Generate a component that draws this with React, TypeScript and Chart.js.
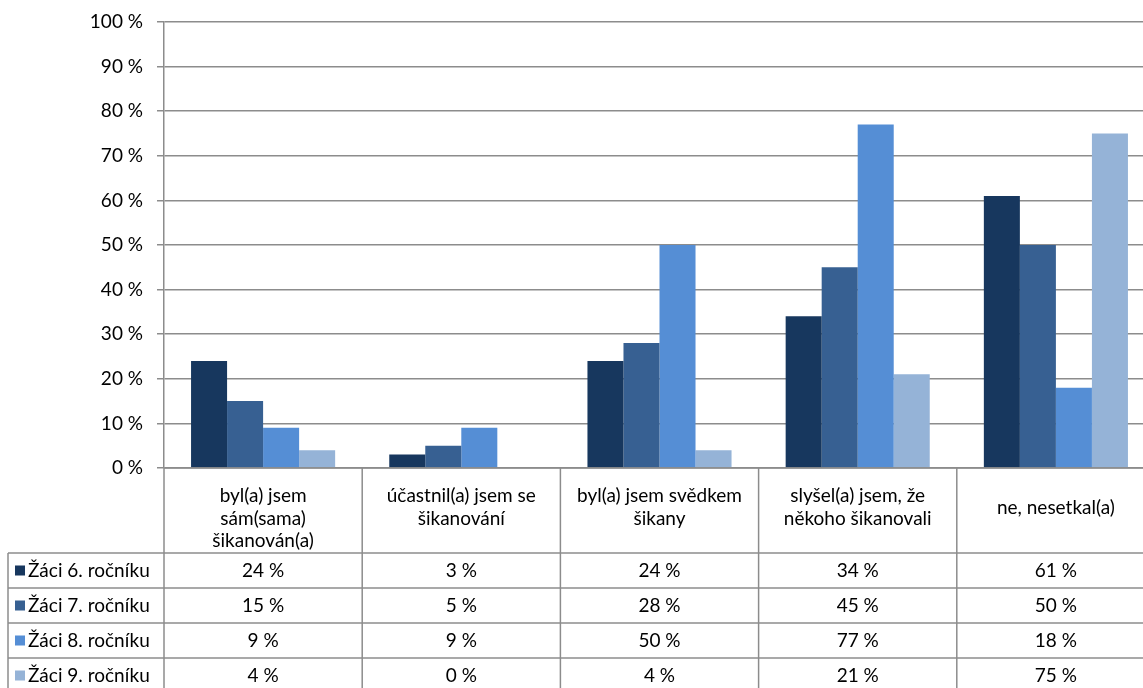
import React, { useEffect, useRef } from "react";
import { Chart, registerables } from "chart.js";

Chart.register(...registerables);

const categories: string[][] = [
  ["byl(a) jsem", "sám(sama)", "šikanován(a)"],
  ["účastnil(a) jsem se", "šikanování"],
  ["byl(a) jsem svědkem", "šikany"],
  ["slyšel(a) jsem, že", "někoho šikanovali"],
  ["ne, nesetkal(a)"],
];
const seriesNames = ["Žáci 6. ročníku", "Žáci 7. ročníku", "Žáci 8. ročníku", "Žáci 9. ročníku"];
const grade6 = [24, 3, 24, 34, 61];
const grade7 = [15, 5, 28, 45, 50];
const grade8 = [9, 9, 50, 77, 18];
const grade9 = [4, 0, 4, 21, 75];
const seriesColors = ["#17375E", "#376092", "#558ED5", "#95B3D7"];
const yTicks = [0, 10, 20, 30, 40, 50, 60, 70, 80, 90, 100];

const FONT = "Lato, 'Liberation Sans', sans-serif";
const LINE = "#8c8c8c";

const tablePlugin = {
  id: "dataTable",
  afterDraw(chart: any) {
    const ctx = chart.ctx;
    const area = chart.chartArea;
    const xs = chart.scales.x;
    const n = categories.length;
    const cw = area.width / n;
    const top = area.bottom;
    const headerBottom = top + 85;
    const rowH = 35;
    const legendLeft = 8;
    const series = [grade6, grade7, grade8, grade9];
    const bottom = headerBottom + rowH * series.length;
    ctx.save();
    ctx.strokeStyle = LINE;
    ctx.lineWidth = 1.5;
    ctx.beginPath();
    ctx.moveTo(area.left, top);
    ctx.lineTo(area.right, top);
    ctx.stroke();
    for (let i = 0; i <= n; i++) {
      const x = i === n ? area.right : xs.getPixelForValue(i) - cw / 2;
      ctx.beginPath();
      ctx.moveTo(x, top);
      ctx.lineTo(x, bottom);
      ctx.stroke();
    }
    ctx.beginPath();
    ctx.moveTo(legendLeft, headerBottom);
    ctx.lineTo(legendLeft, bottom);
    ctx.stroke();
    for (let r = 0; r <= series.length; r++) {
      const y = headerBottom + r * rowH;
      ctx.beginPath();
      ctx.moveTo(legendLeft, y);
      ctx.lineTo(area.right, y);
      ctx.stroke();
    }
    ctx.fillStyle = "#000";
    ctx.font = `19px ${FONT}`;
    ctx.textBaseline = "middle";
    ctx.textAlign = "center";
    categories.forEach((lines, i) => {
      const cx = xs.getPixelForValue(i);
      const start = lines.length === 1 ? top + 40 : top + 28;
      lines.forEach((l, j) => ctx.fillText(l, cx, start + j * 22.5));
    });
    series.forEach((vals, r) => {
      const cy = headerBottom + r * rowH + rowH / 2;
      vals.forEach((v, i) => {
        ctx.fillText(`${v} %`, xs.getPixelForValue(i), cy);
      });
      ctx.fillStyle = seriesColors[r];
      ctx.fillRect(15, cy - 5, 10, 10);
      ctx.fillStyle = "#000";
      ctx.textAlign = "left";
      ctx.fillText(seriesNames[r], 28, cy);
      ctx.textAlign = "center";
    });
    ctx.restore();
  },
};

export default function App() {
  const ref = useRef<HTMLCanvasElement>(null);
  useEffect(() => {
    document.body.style.margin = "0";
    const chart = new Chart(ref.current!, {
      type: "bar",
      data: {
        labels: categories.map((c) => c.join(" ")),
        datasets: [grade6, grade7, grade8, grade9].map((d, i) => ({
          label: seriesNames[i],
          data: d,
          backgroundColor: seriesColors[i],
          borderWidth: 0,
          barPercentage: 1,
          categoryPercentage: 0.727,
        })),
      },
      options: {
        responsive: false,
        animation: false,
        layout: { padding: { top: 22, bottom: 220, left: 0, right: 0 } },
        plugins: { legend: { display: false }, tooltip: { enabled: false } },
        scales: {
          x: { display: false },
          y: {
            min: 0,
            max: 100,
            afterFit: (s: any) => {
              s.width = 164;
              s.paddingTop = 0;
              s.paddingBottom = 0;
            },
            afterBuildTicks: (s: any) => {
              s.ticks = yTicks.map((v) => ({ value: v }));
            },
            ticks: {
              callback: (v: any) => `${v} %`,
              font: { family: FONT, size: 19 },
              color: "#000",
              padding: 14,
            },
            grid: { color: LINE, lineWidth: 1.5, tickLength: 7 },
            border: { color: LINE, width: 1.5 },
          },
        },
      },
      plugins: [tablePlugin],
    });
    return () => chart.destroy();
  }, []);
  return (
    <div style={{ position: "absolute", left: 0, top: 0, width: 1143, height: 688, overflow: "hidden", background: "#fff" }}>
      <canvas ref={ref} width={1155} height={688} style={{ display: "block" }} />
    </div>
  );
}
